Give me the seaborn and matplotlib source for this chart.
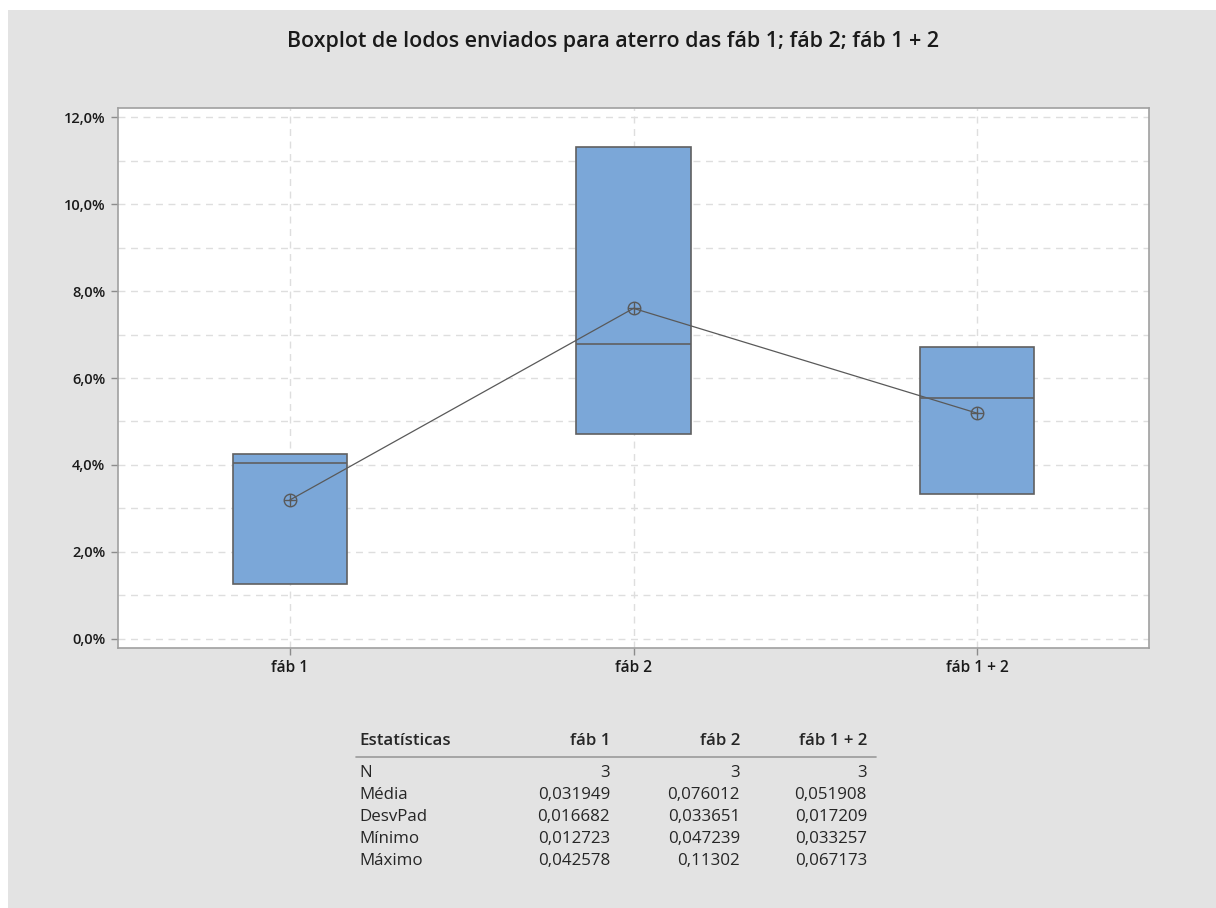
import numpy as np
import pandas as pd
import matplotlib
matplotlib.use("Agg")
import matplotlib.pyplot as plt
from matplotlib.patches import Rectangle
from matplotlib.lines import Line2D
from matplotlib.ticker import MultipleLocator, FuncFormatter
import seaborn as sns

# Sludge sent to landfill (fraction) per plant, three observations each
grupos = ["fáb 1", "fáb 2", "fáb 1 + 2"]
fab1 = [0.012723, 0.040546, 0.042578]
fab2 = [0.047239, 0.067777, 0.11302]
fab12 = [0.033257, 0.055294, 0.067173]

# Summary table rows
tab_linhas = ["N", "Média", "DesvPad", "Mínimo", "Máximo"]
tab_fab1 = ["3", "0,031949", "0,016682", "0,012723", "0,042578"]
tab_fab2 = ["3", "0,076012", "0,033651", "0,047239", "0,11302"]
tab_fab12 = ["3", "0,051908", "0,017209", "0,033257", "0,067173"]

df = pd.DataFrame({"grupo": np.repeat(grupos, 3), "lodo": fab1 + fab2 + fab12})

sns.set_theme(style="white")
plt.rcParams["font.family"] = ["Open Sans", "DejaVu Sans"]

W, H = 1216, 908
fig = plt.figure(figsize=(W / 100, H / 100), dpi=100, facecolor="white")
fig.patches.append(Rectangle((8 / W, 0), 1, 1 - 10 / H, transform=fig.transFigure,
                             facecolor="#e3e3e3", edgecolor="none", zorder=-10))

ax = fig.add_axes([118 / W, 1 - 648 / H, (1149 - 118) / W, (648 - 108) / H])
ax.set_facecolor("white")

# Box statistics with (n+1)p quartiles
stats = []
for g in grupos:
    v = df.loc[df["grupo"] == g, "lodo"].to_numpy()
    q1, med, q3 = np.percentile(v, [25, 50, 75], method="weibull")
    stats.append(dict(med=med, q1=q1, q3=q3, whislo=v.min(), whishi=v.max(), fliers=[]))

edge = "#606060"
ax.bxp(stats, positions=np.arange(len(grupos)), widths=0.333, patch_artist=True,
       showcaps=False, showfliers=False,
       boxprops=dict(facecolor="#7ba7d8", edgecolor=edge, linewidth=1.2),
       medianprops=dict(color=edge, linewidth=1.2),
       whiskerprops=dict(color=edge, linewidth=1.2))

# Mean connect line with circle markers
sns.pointplot(data=df, x="grupo", y="lodo", order=grupos, estimator="mean", errorbar=None,
              color="#595959", markers="o", linewidth=0.9, markersize=9,
              markerfacecolor="none", markeredgewidth=1.0, ax=ax)
medias = df.groupby("grupo", sort=False)["lodo"].mean().reindex(grupos).to_numpy()
ax.plot(np.arange(len(grupos)), medias, linestyle="none", marker="+", markersize=9,
        markeredgewidth=1.0, color="#595959", zorder=5)

ax.set_xlim(-0.5, len(grupos) - 0.5)
ax.set_ylim(-0.00207, 0.12207)
ax.set_xticks(np.arange(len(grupos)))
ax.set_xticklabels(grupos)
ax.yaxis.set_major_locator(MultipleLocator(0.02))
ax.yaxis.set_minor_locator(MultipleLocator(0.01))
ax.yaxis.set_major_formatter(FuncFormatter(lambda v, p: f"{v * 100:.1f}%".replace(".", ",")))
ax.set_xlabel("")
ax.set_ylabel("")

ax.set_axisbelow(True)
dash = (0, (5, 4))
ax.grid(which="both", axis="y", linestyle=dash, color="#dedede", linewidth=1.0)
ax.grid(which="major", axis="x", linestyle=dash, color="#dedede", linewidth=1.0)

ax.tick_params(axis="both", which="major", direction="out", length=5, width=1,
               color="#8c8c8c", labelsize=10.5, labelcolor="#1a1a1a", pad=4,
               left=True, bottom=True)
ax.tick_params(axis="x", which="major", labelsize=11.2)
ax.tick_params(axis="y", which="minor", length=0)
for lab in ax.get_xticklabels() + ax.get_yticklabels():
    lab.set_fontweight("semibold")
for s in ax.spines.values():
    s.set_color("#a0a0a0")
    s.set_linewidth(1.2)

fig.text(613 / W, 1 - 42 / H, "Boxplot de lodos enviados para aterro das fáb 1; fáb 2; fáb 1 + 2",
         ha="center", va="center", fontsize=15.4, fontweight="semibold", color="#1a1a1a")

# Statistics table
tcol = "#262626"
fs = 12.2
fig.text(359 / W, 1 - 741 / H, "Estatísticas", ha="left", va="center", fontsize=fs,
         fontweight="semibold", color=tcol)
col_x = [610, 740, 867]
for x, nome in zip(col_x, grupos):
    fig.text(x / W, 1 - 741 / H, nome, ha="right", va="center", fontsize=fs,
             fontweight="semibold", color=tcol)
fig.add_artist(Line2D([356 / W, 876 / W], [1 - 757 / H, 1 - 757 / H], color="#9a9a9a",
                      linewidth=1.2, transform=fig.transFigure))
for i, nome in enumerate(tab_linhas):
    y = 1 - (773 + 22 * i) / H
    fig.text(359 / W, y, nome, ha="left", va="center", fontsize=fs, color=tcol)
    for x, col in zip(col_x, [tab_fab1, tab_fab2, tab_fab12]):
        fig.text(x / W, y, col[i], ha="right", va="center", fontsize=fs, color=tcol)

fig.savefig("out.png", dpi=100, facecolor=fig.get_facecolor())
